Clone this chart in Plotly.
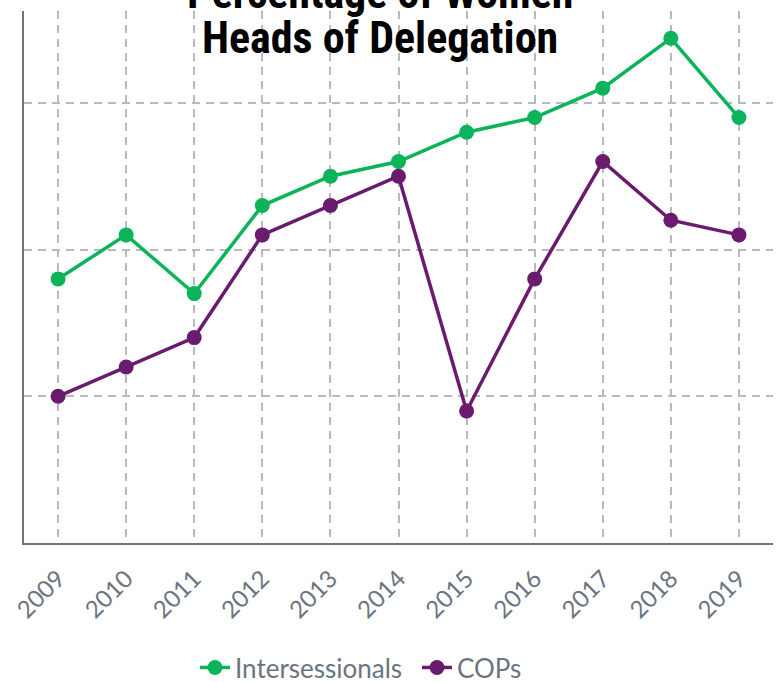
import plotly.graph_objects as go

years = [2009, 2010, 2011, 2012, 2013, 2014, 2015, 2016, 2017, 2018, 2019]
intersessionals = [19.0, 20.5, 18.5, 21.5, 22.5, 23.0, 24.0, 24.5, 25.5, 27.2, 24.5]
cops = [15.0, 16.0, 17.0, 20.5, 21.5, 22.5, 14.5, 19.0, 23.0, 21.0, 20.5]
title_lines = ["Percentage of Women", "Heads of Delegation"]

green = "#0bb35a"
purple = "#6a1b6e"
axis_gray = "#6b7480"
grid_gray = "#b9babe"

fig = go.Figure()
fig.add_trace(go.Scatter(x=years, y=intersessionals, name="Intersessionals",
                         mode="lines+markers",
                         line=dict(color=green, width=3.5),
                         marker=dict(color=green, size=15)))
fig.add_trace(go.Scatter(x=years, y=cops, name="COPs",
                         mode="lines+markers",
                         line=dict(color=purple, width=3.5),
                         marker=dict(color=purple, size=15)))

title_font = dict(family="Liberation Sans Narrow, Roboto Condensed, DejaVu Sans Condensed, sans-serif",
                  size=44, color="#000000", weight="bold")
fig.add_annotation(text=title_lines[0], xref="paper", yref="paper", x=0.475, y=(543 - 21) / 532,
                   yanchor="bottom", showarrow=False, font=title_font)
fig.add_annotation(text=title_lines[1], xref="paper", yref="paper", x=0.475, y=(543 - 66) / 532,
                   yanchor="bottom", showarrow=False, font=title_font)

fig.update_layout(
    width=782, height=682,
    margin=dict(l=24, r=9, t=11, b=139, autoexpand=False),
    paper_bgcolor="white", plot_bgcolor="white",
    showlegend=True,
    legend=dict(orientation="h", x=0.5247, xanchor="center", y=-0.19, yanchor="top",
                entrywidth=177,
                font=dict(family="Lato", size=26, color=axis_gray)),
    xaxis=dict(range=[2008.5, 2019.5], tickvals=years, ticktext=[str(y) for y in years],
               tickangle=-45, tickfont=dict(family="Lato", size=24, color=axis_gray),
               showgrid=True, gridcolor=grid_gray, gridwidth=1.5, griddash="8px,6px",
               showline=True, linecolor=axis_gray, linewidth=2, zeroline=False,
               ticks="", ticklabelstandoff=10, automargin=False),
    yaxis=dict(range=[10, 28.13], tickvals=[15, 20, 25], showticklabels=False,
               showgrid=True, gridcolor=grid_gray, gridwidth=1.5, griddash="8px,6px",
               showline=True, linecolor=axis_gray, linewidth=2, zeroline=False, ticks="",
               automargin=False),
)

fig.write_html("out.html", config={"displayModeBar": False},
               post_script="document.body.style.margin='0';document.body.style.overflow='hidden';")
